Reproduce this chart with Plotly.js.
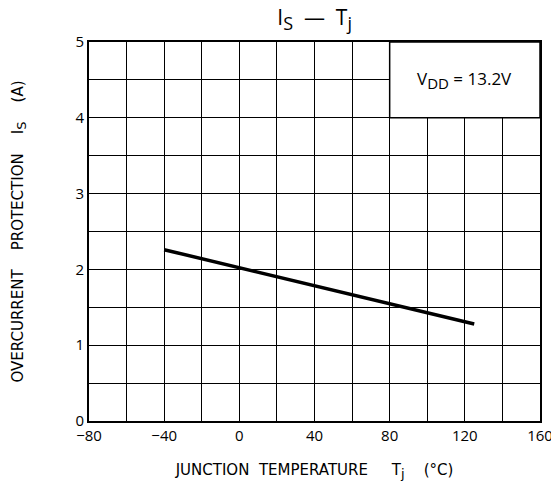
<!DOCTYPE html>
<html>
<head>
<meta charset="utf-8">
<script src="https://cdn.plot.ly/plotly-3.0.1.min.js"></script>
<style>html,body{margin:0;padding:0;background:#fff;}</style>
</head>
<body>
<div id="chart" style="width:551px;height:486px;"></div>
<script>
const tempC = [-40, 0, 125];
const currentA = [2.26, 2.02, 1.28];
const xTicks = [-80, -40, 0, 40, 80, 120, 160];
const yTicks = [0, 1, 2, 3, 4, 5];
const noteText = 'V<sub><span style="font-size:15px;color:#000">DD</span></sub> = 13.2V';

const fontFam = '"Open Sans", "Noto Sans", sans-serif';
const titleFam = '"DejaVu Sans", "Open Sans", sans-serif';

Plotly.newPlot('chart', [{
  x: tempC, y: currentA, type: 'scatter', mode: 'lines',
  line: {color: '#000', width: 3.5}, hoverinfo: 'skip'
}], {
  width: 551, height: 486,
  margin: {l: 89, r: 11, t: 42, b: 65},
  paper_bgcolor: '#fff', plot_bgcolor: '#fff',
  showlegend: false,
  font: {family: fontFam, color: '#000', size: 14},
  title: {text: 'I<sub><span style="font-size:18px;color:#000">S</span></sub>  —  T<sub><span style="font-size:18px;color:#000">j</span></sub>', x: 0.571, xanchor: 'center', y: 0.978, yanchor: 'top', font: {size: 21, family: fontFam, color: '#000'}},
  xaxis: {
    range: [-80, 160], tickvals: xTicks, ticktext: xTicks.map(v => v < 0 ? '\u2212' + Math.abs(v) : String(v)),
    showgrid: true, gridcolor: '#000', gridwidth: 1,
    minor: {dtick: 20, tick0: -80, showgrid: true, gridcolor: '#000', gridwidth: 1, ticks: ''},
    showline: true, linecolor: '#000', linewidth: 2, mirror: true,
    ticks: '', zeroline: false, fixedrange: true, automargin: false,
    ticklabeloverflow: 'allow',
    tickfont: {size: 15},
    title: {text: 'JUNCTION  TEMPERATURE     T<sub><span style="font-size:13px;color:#000">j</span></sub>    (°C)', standoff: 20, font: {size: 15, family: titleFam, color: '#000'}}
  },
  yaxis: {
    range: [0, 5], tickvals: yTicks,
    showgrid: true, gridcolor: '#000', gridwidth: 1,
    minor: {dtick: 0.5, tick0: 0, showgrid: true, gridcolor: '#000', gridwidth: 1, ticks: ''},
    showline: true, linecolor: '#000', linewidth: 2, mirror: true,
    ticks: '', zeroline: false, fixedrange: true, automargin: false,
    tickfont: {size: 15},
    title: {text: 'OVERCURRENT    PROTECTION    I<sub><span style="font-size:13px;color:#000">S</span></sub>    (A)', standoff: 48, font: {size: 15, family: titleFam, color: '#000'}}
  },
  shapes: [{
    type: 'rect', xref: 'x', yref: 'y', x0: 80, x1: 160, y0: 4, y1: 5,
    fillcolor: '#fff', line: {color: '#000', width: 1.5}, layer: 'above'
  }],
  annotations: [{
    x: 120, y: 4.5, xref: 'x', yref: 'y', text: noteText, showarrow: false,
    font: {size: 17, family: fontFam, color: '#000'}
  }]
}, {displayModeBar: false, staticPlot: true});
</script>
</body>
</html>
